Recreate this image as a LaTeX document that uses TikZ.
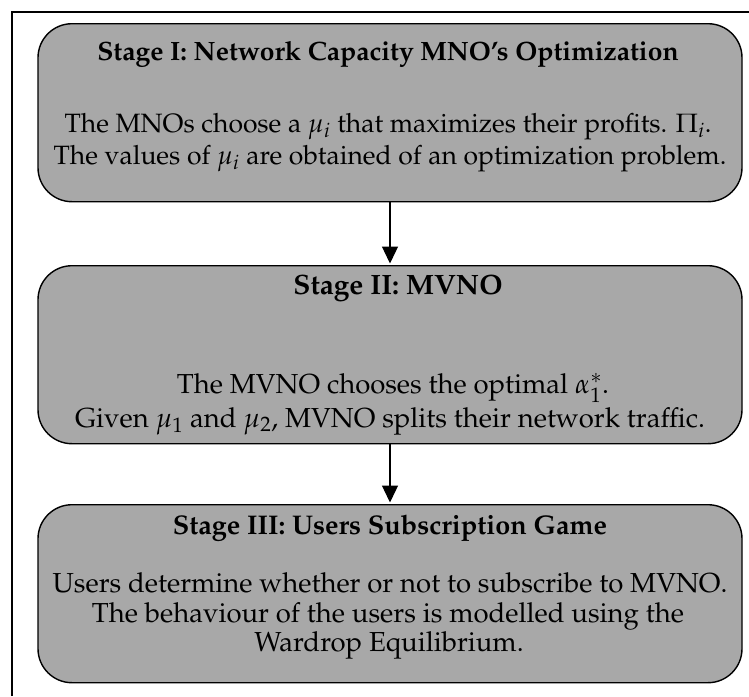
\documentclass[tikz,border=0pt]{standalone}
\usepackage[T1]{fontenc}
\usepackage{mathpazo}
\usetikzlibrary{arrows.meta}
\definecolor{stagegray}{RGB}{168,168,168}
\begin{document}
\begin{tikzpicture}[x=1pt,y=-1pt,
  stagebox/.style={draw=black, line width=1.4pt, fill=stagegray,
    rounded corners=34pt, minimum width=704pt, minimum height=178pt,
    inner sep=0pt, anchor=north},
  stagetext/.style={anchor=base, inner sep=0pt, text height=18pt, text depth=5pt,
    font=\fontsize{#1}{29}\selectfont},
  stagetitle/.style={anchor=base, inner sep=0pt, text height=18pt, text depth=5pt,
    font=\fontsize{#1}{29}\selectfont\bfseries},
  flow/.style={line width=1.3pt, shorten >=1.5pt,
    -{Triangle[width=16pt,length=17pt]}}]
\useasboundingbox (0,0) rectangle (749,696);

% outer frame (left and top edges run to the page border)
\coordinate (fbl) at (12,696);
\coordinate (ftl) at (12,12);
\coordinate (ftr) at (749,12);
\draw[line width=2pt] (fbl) -- (ftl) -- (ftr);

% stage boxes
\node[stagebox] (s1) at (390,23) {};
\node[stagebox] (s2) at (390,265) {};
\node[stagebox] (s3) at (390,504) {};

% stage I
\node[stagetitle=26.5] (t1) at (388,60) {Stage I: Network Capacity MNO's Optimization};
\node[stagetext=26.5] (d1a) at (388,132) {The MNOs choose a $\mu_i$ that maximizes their profits. $\Pi_i$.};
\node[stagetext=26.5] (d1b) at (390,164) {The values of $\mu_i$ are obtained of an optimization problem.};

% stage II
\node[stagetitle=28] (t2) at (398,294) {Stage II: MVNO};
\node[stagetext=27.5] (d2a) at (393,393) {The MVNO chooses the optimal $\alpha_1^*$.};
\node[stagetext=27.5] (d2b) at (390,427) {Given $\mu_1$ and $\mu_2$, MVNO splits their network traffic.};

% stage III
\node[stagetitle=27] (t3) at (390,534) {Stage III: Users Subscription Game};
\node[stagetext=27.5] (d3a) at (390,592) {Users determine whether or not to subscribe to MVNO.};
\node[stagetext=27.5] (d3b) at (388,622) {The behaviour of the users is modelled using the};
\node[stagetext=27.5] (d3c) at (389,651) {Wardrop Equilibrium.};

% flow between stages
\draw[flow] (s1.south) -- (s2.north);
\draw[flow] (s2.south) -- (s3.north);
\end{tikzpicture}
\end{document}
